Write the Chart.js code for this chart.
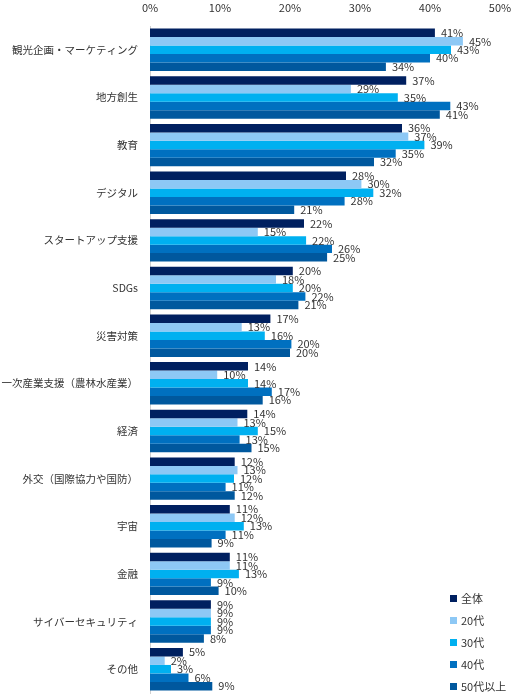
<!DOCTYPE html>
<html lang="ja">
<head>
<meta charset="utf-8">
<script src="https://cdn.jsdelivr.net/npm/chart.js@4"></script>
<style>
  html, body { margin: 0; padding: 0; background: #fff; }
  #wrap { position: relative; width: 530px; height: 700px; }
  #legend { position: absolute; left: 450px; top: 587px; font-family: "Noto Sans CJK JP", sans-serif; font-size: 11px; color: #333; }
  #legend div { height: 22px; line-height: 16px; display: flex; align-items: center; }
  #legend span.box { display: inline-block; width: 7px; height: 7px; margin-right: 4px; }
</style>
</head>
<body>
<div id="wrap">
  <canvas id="grafico" width="530" height="700"></canvas>
  <div id="legend"></div>
</div>
<script>
const categorias = [
  "観光企画・マーケティング", "地方創生", "教育", "デジタル", "スタートアップ支援",
  "SDGs", "災害対策", "一次産業支援（農林水産業）", "経済", "外交（国際協力や国防）",
  "宇宙", "金融", "サイバーセキュリティ", "その他"
];
const series = ["全体", "20代", "30代", "40代", "50代以上"];
const colores = ["#002060", "#8DC8F5", "#00B0F0", "#0070C0", "#00589E"];

const total = [40.7, 36.6, 36.0, 28.0, 22.0, 20.4, 17.2, 14.0, 13.9, 12.1, 11.4, 11.4, 8.7, 4.7];
const edad20 = [44.7, 28.7, 36.9, 30.2, 15.4, 18.0, 13.1, 9.6, 12.5, 12.5, 12.1, 11.4, 8.7, 2.1];
const edad30 = [43.0, 35.4, 39.2, 31.9, 22.3, 20.4, 16.4, 14.0, 15.4, 12.0, 13.4, 12.7, 8.7, 3.0];
const edad40 = [40.0, 42.9, 35.1, 27.8, 26.0, 22.2, 20.2, 17.4, 12.8, 10.8, 10.8, 8.7, 8.7, 5.5];
const edad50 = [33.7, 41.4, 32.0, 20.6, 25.3, 21.2, 20.0, 16.1, 14.5, 12.1, 8.8, 9.8, 7.7, 8.9];
const xTicks = [0, 10, 20, 30, 40, 50];

const valores = [total, edad20, edad30, edad40, edad50];
const fuente = '"Noto Sans CJK JP", sans-serif';

// etiquetas de valor al final de cada barra
const etiquetas = {
  id: "etiquetas",
  afterDatasetsDraw(chart) {
    const ctx = chart.ctx;
    ctx.save();
    ctx.font = "11px " + fuente;
    ctx.fillStyle = "#333";
    ctx.textAlign = "left";
    ctx.textBaseline = "middle";
    chart.data.datasets.forEach((ds, i) => {
      chart.getDatasetMeta(i).data.forEach((bar, j) => {
        ctx.fillText(Math.round(ds.data[j]) + "%", bar.x + 6, bar.y);
      });
    });
    ctx.restore();
  }
};

new Chart(document.getElementById("grafico"), {
  type: "bar",
  data: {
    labels: categorias,
    datasets: series.map((s, i) => ({
      label: s,
      data: valores[i],
      backgroundColor: colores[i],
      borderWidth: 0,
      barPercentage: 1,
      categoryPercentage: 0.89
    }))
  },
  options: {
    indexAxis: "y",
    responsive: false,
    animation: false,
    layout: { padding: { left: 0, right: 30, top: 0, bottom: 7 } },
    plugins: {
      legend: { display: false },
      tooltip: { enabled: false }
    },
    scales: {
      x: {
        position: "top",
        min: 0,
        max: 50,
        afterBuildTicks: s => { s.ticks = xTicks.map(v => ({ value: v })); },
        afterFit: s => { s.height = 26; },
        grid: { display: false, drawTicks: false },
        border: { display: false },
        ticks: {
          font: { family: fuente, size: 11 },
          color: "#333",
          padding: 12,
          callback: v => v + "%"
        }
      },
      y: {
        afterFit: s => { s.width = 150; s.paddingTop = 0; s.paddingBottom = 0; },
        grid: { display: false, drawTicks: false },
        border: { display: true, color: "#D0D0D0", width: 1 },
        ticks: {
          font: { family: fuente, size: 10.5 },
          color: "#333",
          padding: 12,
          autoSkip: false
        }
      }
    }
  },
  plugins: [etiquetas]
});

// leyenda
const leyenda = document.getElementById("legend");
series.forEach((s, i) => {
  const fila = document.createElement("div");
  fila.innerHTML = `<span class="box" style="background:${colores[i]}"></span>${s}`;
  leyenda.appendChild(fila);
});
</script>
</body>
</html>
